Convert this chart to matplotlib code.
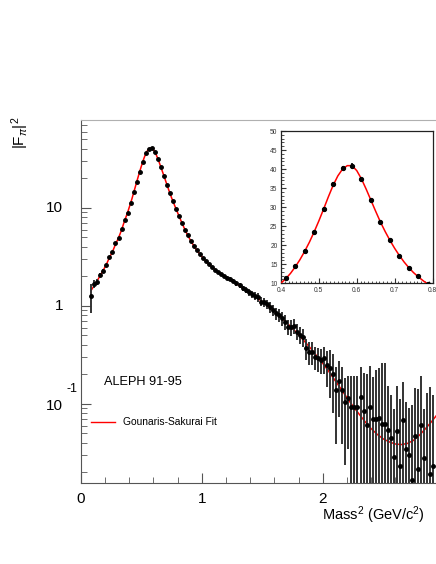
import matplotlib
matplotlib.use("Agg")
import matplotlib.pyplot as plt
import numpy as np

plt.rcParams['font.family'] = ['Liberation Sans', 'DejaVu Sans']
plt.rcParams['mathtext.fontset'] = 'custom'
plt.rcParams['mathtext.rm'] = 'Liberation Sans'
plt.rcParams['mathtext.it'] = 'Liberation Sans:italic'
plt.rcParams['mathtext.sf'] = 'Liberation Sans'

# ALEPH 91-95 pion form factor, bin centres in GeV^2
mass2 = [0.0875, 0.1125, 0.1375, 0.1625, 0.1875, 0.2125, 0.2375, 0.2625, 0.2875, 0.3125,
         0.3375, 0.3625, 0.3875, 0.4125, 0.4375, 0.4625, 0.4875, 0.5125, 0.5375, 0.5625,
         0.5875, 0.6125, 0.6375, 0.6625, 0.6875, 0.7125, 0.7375, 0.7625, 0.7875, 0.8125,
         0.8375, 0.8625, 0.8875, 0.9125, 0.9375, 0.9625, 0.9875, 1.0125, 1.0375, 1.0625,
         1.0875, 1.1125, 1.1375, 1.1625, 1.1875, 1.2125, 1.2375, 1.2625, 1.2875, 1.3125,
         1.3375, 1.3625, 1.3875, 1.4125, 1.4375, 1.4625, 1.4875, 1.5125, 1.5375, 1.5625,
         1.5875, 1.6125, 1.6375, 1.6625, 1.6875, 1.7125, 1.7375, 1.7625, 1.7875, 1.8125,
         1.8375, 1.8625, 1.8875, 1.9125, 1.9375, 1.9625, 1.9875, 2.0125, 2.0375, 2.0625,
         2.0875, 2.1125, 2.1375, 2.1625, 2.1875, 2.2125, 2.2375, 2.2625, 2.2875, 2.3125,
         2.3375, 2.3625, 2.3875, 2.4125, 2.4375, 2.4625, 2.4875, 2.5125, 2.5375, 2.5625,
         2.5875, 2.6125, 2.6375, 2.6625, 2.6875, 2.7125, 2.7375, 2.7625, 2.7875, 2.8125,
         2.8375, 2.8625, 2.8875, 2.9125]
ff2 = [1.27, 1.68, 1.75, 2.07, 2.29, 2.62, 3.18, 3.58, 4.36, 4.98,
       6.05, 7.55, 8.96, 11.3, 14.55, 18.6, 23.5, 29.6, 36.2, 40.2,
       40.9, 37.5, 31.9, 26.2, 21.4, 17.2, 14.1, 11.8, 9.7, 8.2,
       7.0, 6.0, 5.25, 4.6, 4.1, 3.7, 3.35, 3.07, 2.85, 2.65,
       2.48, 2.34, 2.21, 2.10, 2.00, 1.93, 1.87, 1.81, 1.70, 1.62,
       1.51, 1.46, 1.38, 1.32, 1.27, 1.22, 1.11, 1.09, 1.04, 0.97,
       0.91, 0.84, 0.81, 0.75, 0.69, 0.615, 0.606, 0.625, 0.547, 0.506,
       0.479, 0.37, 0.337, 0.342, 0.30, 0.292, 0.281, 0.292, 0.25, 0.235,
       0.201, 0.139, 0.173, 0.139, 0.104, 0.115, 0.092, 0.092, 0.094, 0.119,
       0.085, 0.061, 0.093, 0.070, 0.071, 0.072, 0.062, 0.062, 0.054, 0.0447,
       0.029, 0.0526, 0.023, 0.0687, 0.0345, 0.0304, 0.0169, 0.0471, 0.0216, 0.0606,
       0.0281, 0.010, 0.0195, 0.0235]
ff2_err = [0.42, 0.15, 0.12, 0.10, 0.09, 0.08, 0.08, 0.08, 0.09, 0.10,
           0.11, 0.12, 0.14, 0.20, 0.25, 0.30, 0.35, 0.40, 0.45, 0.50,
           0.65, 0.50, 0.45, 0.40, 0.30, 0.25, 0.20, 0.17, 0.14, 0.12,
           0.10, 0.09, 0.08, 0.07, 0.065, 0.06, 0.055, 0.05, 0.05, 0.05,
           0.05, 0.05, 0.06, 0.06, 0.07, 0.08, 0.09, 0.09, 0.10, 0.10,
           0.10, 0.11, 0.11, 0.11, 0.12, 0.12, 0.12, 0.12, 0.12, 0.12,
           0.12, 0.12, 0.12, 0.12, 0.12, 0.11, 0.11, 0.11, 0.10, 0.10,
           0.10, 0.09, 0.09, 0.09, 0.08, 0.08, 0.08, 0.09, 0.10, 0.12,
           0.12, 0.10, 0.10, 0.10, 0.08, 0.08, 0.10, 0.10, 0.10, 0.12,
           0.12, 0.14, 0.15, 0.12, 0.15, 0.16, 0.20, 0.20, 0.10, 0.08,
           0.06, 0.10, 0.09, 0.10, 0.07, 0.06, 0.08, 0.10, 0.12, 0.13,
           0.06, 0.12, 0.13, 0.10]

# Gounaris-Sakurai fit curve
fit_s = [0.0875, 0.1125, 0.1375, 0.1625, 0.1875, 0.2125, 0.2375, 0.2625, 0.2875, 0.3125,
         0.3375, 0.3625, 0.3875,
         0.4, 0.4125, 0.425, 0.4375, 0.45, 0.4625, 0.475, 0.4875, 0.5, 0.5125,
         0.525, 0.5375, 0.55, 0.5625, 0.575, 0.5875, 0.6, 0.6125, 0.625, 0.6375,
         0.65, 0.6625, 0.675, 0.6875, 0.7, 0.7125, 0.725, 0.7375, 0.75, 0.7625,
         0.775, 0.7875, 0.8,
         0.825, 0.85, 0.875, 0.9, 0.925, 0.95, 0.975, 1.0, 1.025, 1.05, 1.075, 1.1,
         1.15, 1.2, 1.25, 1.3, 1.35, 1.4, 1.45, 1.5, 1.55, 1.6, 1.65, 1.7, 1.75,
         1.8, 1.85, 1.9, 1.95, 2.0, 2.05, 2.1, 2.15, 2.2, 2.25, 2.3, 2.35, 2.4,
         2.45, 2.5, 2.55, 2.6, 2.65, 2.7, 2.75, 2.8, 2.85, 2.9, 2.95, 3.0]
fit_val = [1.45, 1.62, 1.82, 2.05, 2.33, 2.66, 3.12, 3.57, 4.25, 4.95,
           5.95, 7.4, 8.95,
           10.05, 11.2, 12.6, 14.3, 16.2, 18.4, 20.8, 23.5, 26.4, 29.5,
           32.7, 35.7, 38.2, 40.0, 40.9, 40.9, 39.6, 37.4, 34.7, 31.8,
           28.9, 26.1, 23.6, 21.3, 19.2, 17.3, 15.6, 14.1, 12.8, 11.7,
           10.7, 9.8, 9.0,
           7.6, 6.45, 5.55, 4.85, 4.3, 3.85, 3.5, 3.2, 2.95, 2.74, 2.56, 2.41,
           2.16, 1.95, 1.80, 1.65, 1.50, 1.36, 1.23, 1.11, 1.00, 0.89, 0.78, 0.68, 0.59,
           0.51, 0.435, 0.37, 0.31, 0.26, 0.215, 0.175, 0.143, 0.116, 0.095, 0.079, 0.066, 0.056,
           0.049, 0.044, 0.041, 0.039, 0.0385, 0.0395, 0.0425, 0.048, 0.056, 0.066, 0.079, 0.094]

x = np.array(mass2)
y = np.array(ff2)
e = np.array(ff2_err)
lo = np.minimum(e, y - 1e-4)

W, H = 436, 564
fig = plt.figure(figsize=(W / 100, H / 100), dpi=100)

ax = fig.add_axes([80.7 / W, 81 / H, 363 / W, 363 / H])
ax.set_yscale('log')
ax.set_xlim(0, 3)
ax.set_ylim(0.0156, 79)
ax.plot(fit_s, fit_val, color='red', lw=1.1, zorder=3)
ax.errorbar(x, y, yerr=[lo, e], fmt='o', ms=2.5, color='black', ecolor='#333333',
            elinewidth=1.4, capsize=0, zorder=4)

ax.spines['right'].set_visible(False)
ax.spines['top'].set_color('#b0b0b0')
ax.spines['left'].set_color('#555555')
ax.spines['bottom'].set_color('#555555')
ax.tick_params(which='both', direction='in', colors='#555555', top=False, right=False)
ax.tick_params(which='major', length=7)
ax.tick_params(which='minor', length=4)
ax.set_xticks([0, 1, 2, 3])
ax.set_xticks(np.arange(0, 3.01, 0.2), minor=True)
ax.set_xticklabels(['0', '1', '2', ''], fontsize=11, color='black')
ax.tick_params(axis='x', pad=6.5)
ax.set_yticks([0.1, 1, 10])
ax.set_yticklabels([])

lab_kw = dict(xycoords=('axes fraction', 'data'), textcoords='offset points',
              fontsize=11, va='center')
ax.annotate('10', xy=(0, 10), xytext=(-12.5, 0), ha='right', **lab_kw)
ax.annotate('1', xy=(0, 1), xytext=(-12.5, 0), ha='right', **lab_kw)
ax.annotate('10', xy=(0, 0.1), xytext=(-12.5, -1.5), ha='right', **lab_kw)
ax.annotate('-1', xy=(0, 0.1), xytext=(-10, 10.5), ha='left',
            xycoords=('axes fraction', 'data'), textcoords='offset points',
            fontsize=9, va='center')

fig.text(20 / W, 1 - 117 / H, r'|F$_{\pi}$|$^{2}$', rotation=90, fontsize=11,
         ha='center', va='top')
fig.text(322 / W, 1 - 515 / H, r'Mass$^{2}$ (GeV/c$^{2}$)', fontsize=10.5,
         ha='left', va='center')

fig.text(104 / W, 1 - 382 / H, 'ALEPH 91-95', fontsize=9.2, ha='left', va='center')
fig.lines.append(plt.Line2D([91 / W, 115 / W], [1 - 422 / H, 1 - 422 / H],
                            transform=fig.transFigure, color='red', lw=1.0))
fig.text(123 / W, 1 - 422 / H, 'Gounaris-Sakurai Fit', fontsize=7.4,
         ha='left', va='center')

# inset: zoom on the rho peak
axi = fig.add_axes([281 / W, 1 - 283.3 / H, 151.5 / W, 152.3 / H])
axi.set_xlim(0.4, 0.8)
axi.set_ylim(10, 50)
axi.plot(fit_s, fit_val, color='red', lw=1.1, zorder=3)
axi.errorbar(x, y, yerr=[lo, e], fmt='o', ms=2.8, color='black',
             elinewidth=1.2, capsize=0, zorder=4)
axi.set_xticks([0.4, 0.5, 0.6, 0.7, 0.8])
axi.set_xticks(np.arange(0.4, 0.801, 0.01), minor=True)
axi.set_yticks(np.arange(10, 51, 5))
axi.set_yticks(np.arange(10, 51, 1), minor=True)
axi.tick_params(which='both', direction='in', labelsize=4.8, pad=2.5,
                colors='#333333', labelcolor='#333333')
axi.tick_params(which='major', length=3.5)
axi.tick_params(which='minor', length=1.8)
for sp in axi.spines.values():
    sp.set_linewidth(0.9)
    sp.set_color('#222222')

fig.savefig('out.png', dpi=100)
